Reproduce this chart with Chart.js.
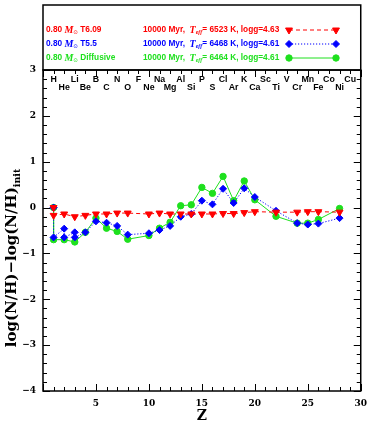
<!DOCTYPE html>
<html><head><meta charset="utf-8">
<script src="https://cdn.jsdelivr.net/npm/chart.js@4.4.0/dist/chart.umd.min.js"></script>
<style>html,body{margin:0;padding:0;background:#fff}canvas{display:block}</style>
</head><body>
<canvas id="c" width="374" height="427"></canvas>
<script>
// ---- data ----
const elements = ['H','He','Li','Be','B','C','N','O','F','Ne','Na','Mg','Al','Si','P','S','Cl','Ar','K','Ca','Sc','Ti','V','Cr','Mn','Fe','Co','Ni','Cu'];

const zT609 = [1,1,2,3,4,5,6,7,8,10,11,12,13,14,15,16,17,18,19,20,22,24,25,26,28];
const vT609 = [0,-0.17,-0.14,-0.2,-0.17,-0.14,-0.14,-0.12,-0.12,-0.14,-0.12,-0.14,-0.14,-0.14,-0.14,-0.14,-0.13,-0.13,-0.11,-0.09,-0.1,-0.1,-0.09,-0.09,-0.1];

const zT55 = [1,1,2,2,3,3,4,5,6,7,8,10,11,12,13,14,15,16,17,18,19,20,22,24,25,26,28];
const vT55 = [0,-0.65,-0.46,-0.65,-0.54,-0.65,-0.54,-0.3,-0.33,-0.4,-0.59,-0.56,-0.49,-0.4,-0.2,-0.14,0.15,0.07,0.41,0.1,0.42,0.23,-0.07,-0.34,-0.37,-0.35,-0.23];

const zDiff = [1,1,2,3,4,5,6,7,8,10,11,12,13,14,15,16,17,18,19,20,22,24,25,26,28];
const vDiff = [0,-0.7,-0.7,-0.75,-0.54,-0.23,-0.45,-0.52,-0.69,-0.61,-0.45,-0.32,0.04,0.06,0.44,0.31,0.68,0.15,0.58,0.17,-0.19,-0.34,-0.34,-0.26,-0.02];

const seriesMass = ['0.80','0.80','0.80'];
const seriesName = ['T6.09','T5.5','Diffusive'];
const seriesAge  = ['10000','10000','10000'];
const seriesTeff = ['6523','6468','6464'];
const seriesLogg = ['4.63','4.61','4.61'];

const xTicks = {min:0, max:30, step:5, minor:1};
const yTicks = {min:-4, max:3, step:1, minor:0.2};

// ---- styles ----
const RED='#ff0000', BLUE='#0000ff', GREEN='#1ee01e';
const colors=[RED,BLUE,GREEN];
const styles=[
  {pointStyle:'triangle', rotation:180, radius:4, dash:[4,3]},
  {pointStyle:'rectRot', rotation:0, radius:3.5, dash:[1.2,1.8]},
  {pointStyle:'circle', rotation:0, radius:3.2, dash:[]}
];
const zip=(xs,ys)=>xs.map((x,i)=>({x:x,y:ys[i]}));
const seriesData=[zip(zT609,vT609), zip(zT55,vT55), zip(zDiff,vDiff)];

const datasets = seriesData.map((d,i)=>({
  label: seriesName[i],
  data: d,
  showLine: true,
  borderColor: colors[i],
  backgroundColor: colors[i],
  borderWidth: 1,
  borderDash: styles[i].dash,
  pointStyle: styles[i].pointStyle,
  pointRotation: styles[i].rotation,
  pointRadius: styles[i].radius,
  pointBorderWidth: 1,
  pointBackgroundColor: colors[i],
  pointBorderColor: colors[i],
  tension: 0
}));

const SERIF='"DejaVu Serif"', SANS='"Liberation Sans"', TSERIF='"Liberation Serif"';

function drawSegs(ctx, x, y, segs){
  let cx=x;
  for(const s of segs){
    ctx.font=s.f;
    ctx.fillText(s.t, cx, y+(s.dy||0));
    cx+=ctx.measureText(s.t).width;
  }
  return cx;
}
function segsWidth(ctx, segs){
  let w=0; for(const s of segs){ctx.font=s.f; w+=ctx.measureText(s.t).width;} return w;
}

const decor = {
  id:'decor',
  afterDraw(chart){
    const ctx=chart.ctx, xs=chart.scales.x, ys=chart.scales.y;
    const {left,right,top,bottom}=chart.chartArea;
    ctx.save();
    // frame & legend box
    ctx.strokeStyle='#000'; ctx.lineWidth=1.5; ctx.setLineDash([]);
    ctx.strokeRect(left, top, right-left, bottom-top);
    ctx.strokeRect(left, 5, right-left, top-5);
    // ticks
    ctx.lineWidth=1;
    ctx.beginPath();
    for(let z=xTicks.min; z<=xTicks.max+1e-9; z+=xTicks.minor){
      const px=Math.round(xs.getPixelForValue(z))+0.5;
      const len = (Math.abs(z%xTicks.step)<1e-6)?7:4;
      ctx.moveTo(px,bottom); ctx.lineTo(px,bottom-len);
      ctx.moveTo(px,top); ctx.lineTo(px,top+len);
    }
    const nMin=Math.round((yTicks.max-yTicks.min)/yTicks.minor);
    for(let k=0;k<=nMin;k++){
      const v=yTicks.min+k*yTicks.minor;
      const py=Math.round(ys.getPixelForValue(v))+0.5;
      const major=Math.abs(v-Math.round(v))<1e-6;
      const len= major?7:4;
      ctx.moveTo(left,py); ctx.lineTo(left+len,py);
      ctx.moveTo(right,py); ctx.lineTo(right-len,py);
    }
    ctx.stroke();
    // element labels
    ctx.fillStyle='#000'; ctx.font='bold 8.8px '+SANS; ctx.textAlign='center'; ctx.textBaseline='alphabetic';
    elements.forEach((el,i)=>{
      const z=i+1; const px=xs.getPixelForValue(z);
      ctx.fillText(el, px, (z%2===1)? top+12 : top+20);
    });
    // legend
    ctx.textAlign='left'; ctx.textBaseline='middle';
    const rowsY=[30,44,58];
    const fB='bold 8.3px '+SANS, fI='italic bold 10px '+TSERIF, fSub='5.5px "DejaVu Sans"', fSubI='italic bold 6px '+TSERIF;
    for(let i=0;i<3;i++){
      const y=rowsY[i];
      ctx.fillStyle=colors[i];
      drawSegs(ctx, 46, y, [
        {t:seriesMass[i]+' ', f:fB},
        {t:'M', f:fI},
        {t:'\u2299', f:fSub, dy:2.5},
        {t:' '+seriesName[i], f:fB}
      ]);
      drawSegs(ctx, 143, y, [
        {t:seriesAge[i]+' Myr,  ', f:fB},
        {t:'T', f:fI},
        {t:'eff', f:fSubI, dy:2.5},
        {t:'= '+seriesTeff[i]+' K, logg='+seriesLogg[i], f:fB}
      ]);
      // line sample
      ctx.strokeStyle=colors[i]; ctx.lineWidth=1; ctx.setLineDash(styles[i].dash);
      ctx.beginPath(); ctx.moveTo(289,y); ctx.lineTo(336,y); ctx.stroke();
      ctx.setLineDash([]);
      for(const px of [289,336]){
        Chart.helpers.drawPoint(ctx,{pointStyle:styles[i].pointStyle, rotation:styles[i].rotation, radius:styles[i].radius, borderWidth:1}, px, y);
      }
    }
    // y axis title
    ctx.fillStyle='#000'; ctx.textBaseline='alphabetic';
    const ySegs=[
      {t:'log(N/H)\u2212log(N/H)', f:'bold 15px '+SERIF},
      {t:'init', f:'bold 9.5px '+SERIF, dy:4}
    ];
    const w=segsWidth(ctx,ySegs);
    ctx.save();
    ctx.translate(16, 258);
    ctx.rotate(-Math.PI/2);
    drawSegs(ctx, -w/2, 0, ySegs);
    ctx.restore();
    // x axis title
    ctx.font='bold 14px '+SERIF; ctx.textAlign='center';
    ctx.fillText('Z', xs.getPixelForValue(15), 420);
    ctx.restore();
  }
};

new Chart(document.getElementById('c'), {
  type:'scatter',
  data:{datasets:datasets},
  options:{
    responsive:false,
    animation:false,
    devicePixelRatio:1,
    layout:{padding:{top:70,right:10,left:0,bottom:0}},
    plugins:{legend:{display:false}, tooltip:{enabled:false}},
    scales:{
      x:{type:'linear', min:xTicks.min, max:xTicks.max,
        grid:{display:false, drawTicks:false}, border:{display:false},
        ticks:{stepSize:xTicks.step, padding:7, color:'#000', font:{family:'DejaVu Serif', weight:'bold', size:9},
          maxRotation:0, callback:v=> v===0?'':String(v)},
        afterFit:s=>{s.height=36;}
      },
      y:{type:'linear', min:yTicks.min, max:yTicks.max,
        grid:{display:false, drawTicks:false}, border:{display:false},
        ticks:{stepSize:yTicks.step, padding:7, color:'#000', font:{family:'DejaVu Serif', weight:'bold', size:9},
          callback:v=> v<0 ? '\u2212'+Math.abs(v) : String(v)},
        afterFit:s=>{s.width=43;}
      }
    }
  },
  plugins:[decor]
});
</script>
</body></html>
